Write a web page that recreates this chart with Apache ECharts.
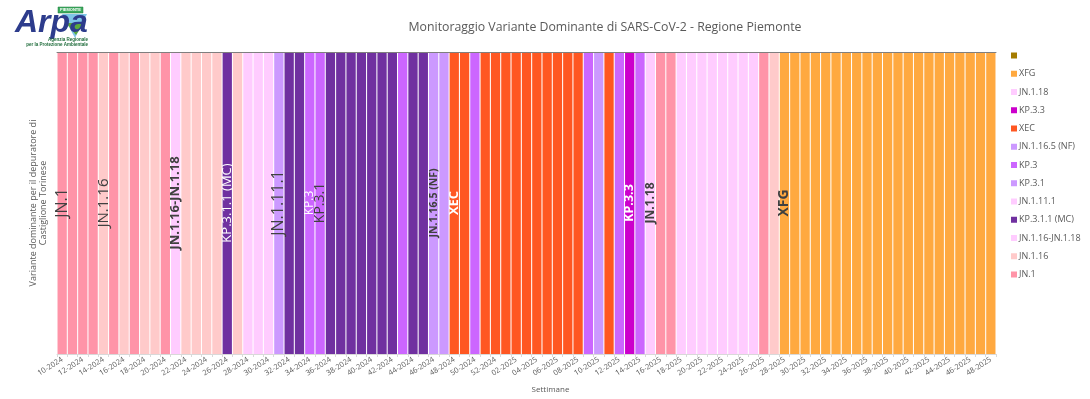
<!DOCTYPE html>
<html><head><meta charset="utf-8">
<script src="https://cdn.jsdelivr.net/npm/echarts@6/dist/echarts.min.js"></script>
<style>html,body{margin:0;padding:0;background:#fff}#c{width:1090px;height:399px}</style>
</head><body><div id="c"></div>
<script>
// ---- DATA ----
const weeks = [
 '10-2024','11-2024','12-2024','13-2024','14-2024','15-2024','16-2024','17-2024','18-2024','19-2024',
 '20-2024','21-2024','22-2024','23-2024','24-2024','25-2024','26-2024','27-2024','28-2024','29-2024',
 '30-2024','31-2024','32-2024','33-2024','34-2024','35-2024','36-2024','37-2024','38-2024','39-2024',
 '40-2024','41-2024','42-2024','43-2024','44-2024','45-2024','46-2024','47-2024','48-2024','49-2024',
 '50-2024','51-2024','52-2024',
 '01-2025','02-2025','03-2025','04-2025','05-2025','06-2025','07-2025','08-2025','09-2025','10-2025',
 '11-2025','12-2025','13-2025','14-2025','15-2025','16-2025','17-2025','18-2025','19-2025','20-2025',
 '21-2025','22-2025','23-2025','24-2025','25-2025','26-2025','27-2025','28-2025','29-2025','30-2025',
 '31-2025','32-2025','33-2025','34-2025','35-2025','36-2025','37-2025','38-2025','39-2025','40-2025',
 '41-2025','42-2025','43-2025','44-2025','45-2025','46-2025','47-2025','48-2025'
];
const dominant = [
 'JN.1','JN.1','JN.1','JN.1','JN.1.16','JN.1','JN.1.16','JN.1','JN.1.16','JN.1.16',
 'JN.1','JN.1.16-JN.1.18','JN.1.16','JN.1.16','JN.1.16','JN.1.16','KP.3.1.1 (MC)','JN.1.16','JN.1.11.1','JN.1.11.1',
 'JN.1.11.1','KP.3.1','KP.3.1.1 (MC)','KP.3.1.1 (MC)','KP.3','KP.3','KP.3.1.1 (MC)','KP.3.1.1 (MC)','KP.3.1.1 (MC)','KP.3.1.1 (MC)',
 'KP.3.1.1 (MC)','KP.3.1.1 (MC)','KP.3.1.1 (MC)','KP.3','KP.3.1.1 (MC)','KP.3.1.1 (MC)','JN.1.16.5 (NF)','JN.1.16.5 (NF)','XEC','XEC',
 'KP.3','XEC','XEC',
 'XEC','XEC','XEC','XEC','XEC','XEC','XEC','XEC','KP.3','JN.1.16.5 (NF)',
 'XEC','KP.3','KP.3.3','KP.3','JN.1.18','JN.1','JN.1','JN.1.18','JN.1.18','JN.1.18',
 'JN.1.18','JN.1.18','JN.1.18','JN.1.18','JN.1.18','JN.1','JN.1.16','XFG','XFG','XFG',
 'XFG','XFG','XFG','XFG','XFG','XFG','XFG','XFG','XFG','XFG',
 'XFG','XFG','XFG','XFG','XFG','XFG','XFG','XFG'
];
// legend order (top to bottom); first entry has no name in the original
const legendOrder = [' ','XFG','JN.1.18','KP.3.3','XEC','JN.1.16.5 (NF)','KP.3','KP.3.1','JN.1.11.1','KP.3.1.1 (MC)','JN.1.16-JN.1.18','JN.1.16','JN.1'];
// in-bar labels
const labelWeeks = ['10-2024','14-2024','21-2024','26-2024','31-2024','34-2024','35-2024','46-2024','48-2024','13-2025','15-2025','28-2025'];
const labelTexts = ['JN.1','JN.1.16','JN.1.16-JN.1.18','KP.3.1.1 (MC)','JN.1.11.1','KP.3','KP.3.1','JN.1.16.5 (NF)','XEC','KP.3.3','JN.1.18','XFG'];

// ---- STYLE ----
const colors = {
 ' ':'#A57C00','XFG':'#FFA940','JN.1.18':'#FFCCFF','KP.3.3':'#CC00CC','XEC':'#FF5722',
 'JN.1.16.5 (NF)':'#CC99FF','KP.3':'#CC66FF','KP.3.1':'#CC99FF','JN.1.11.1':'#FFCCFF',
 'KP.3.1.1 (MC)':'#7030A0','JN.1.16-JN.1.18':'#FFCCFF','JN.1.16':'#FFCACA','JN.1':'#FF94A8'
};
const labelStyle = {
 'JN.1':{size:16,bold:false,color:'#404040'},
 'JN.1.16':{size:15,bold:false,color:'#404040'},
 'JN.1.16-JN.1.18':{size:13,bold:true,color:'#404040'},
 'KP.3.1.1 (MC)':{size:13,bold:false,color:'#FFFFFF'},
 'JN.1.11.1':{size:16,bold:false,color:'#404040'},
 'KP.3':{size:12,bold:false,color:'#FFFFFF'},
 'KP.3.1':{size:14,bold:false,color:'#404040'},
 'JN.1.16.5 (NF)':{size:10.5,bold:true,color:'#404040'},
 'XEC':{size:13,bold:true,color:'#FFFFFF'},
 'KP.3.3':{size:12.5,bold:true,color:'#FFFFFF'},
 'JN.1.18':{size:12,bold:true,color:'#404040'},
 'XFG':{size:14,bold:true,color:'#404040'}
};
const FONT = 'Open Sans';

const chart = echarts.init(document.getElementById('c'), null, {renderer:'canvas'});

const variantSeries = legendOrder.slice().reverse().map(v => ({
  name: v, type: 'bar', stack: 'w', silent: true,
  itemStyle: {color: colors[v]},
  data: dominant.map(d => d === v ? 1 : '-')
}));

const labelSeries = {
  name: '__labels', type: 'bar', silent: true,
  barGap: '-100%', barCategoryGap: '10%',
  itemStyle: {color: 'rgba(0,0,0,0)'},
  data: weeks.map(w => {
    const i = labelWeeks.indexOf(w);
    if (i < 0) return '-';
    const t = labelTexts[i], s = labelStyle[t];
    return {value: 1, label: {show: true, position: 'inside', rotate: 90, formatter: t,
      fontSize: s.size, fontWeight: s.bold ? 'bold' : 'normal', color: s.color, fontFamily: FONT}};
  })
};

chart.setOption({
  animation: false,
  textStyle: {fontFamily: FONT},
  title: {
    text: 'Monitoraggio Variante Dominante di SARS-CoV-2 - Regione Piemonte',
    left: 600, textAlign: 'center', top: 16,
    textStyle: {fontSize: 12.3, fontWeight: 'normal', color: '#595959', fontFamily: FONT}
  },
  legend: {
    data: legendOrder, orient: 'vertical', left: 1011, top: 50,
    itemWidth: 6, itemHeight: 6, itemGap: 7.25, icon: 'rect', padding: 0,
    selectedMode: false,
    textStyle: {fontSize: 9, color: '#595959', lineHeight: 11, fontFamily: FONT, padding: [0,0,0,-3]}
  },
  grid: {left: 57, right: 94, top: 52, bottom: 42},
  xAxis: [{
    type: 'category', data: weeks,
    axisLine: {lineStyle: {color: '#D9D9D9'}},
    axisTick: {show: true, interval: 0, length: 3, lineStyle: {color: '#D9D9D9'}},
    axisLabel: {interval: 1, rotate: 32, fontSize: 7.5, color: '#595959', margin: 5, fontFamily: FONT},
    name: 'Settimane', nameLocation: 'middle', nameGap: 32,
    nameTextStyle: {fontSize: 8, color: '#595959', padding: [0,0,0,48]}
  },{
    type: 'category', data: weeks, position: 'top', z: 5,
    axisLine: {lineStyle: {color: '#7F7F7F'}},
    axisTick: {show: false}, axisLabel: {show: false}
  }],
  yAxis: {
    type: 'value', min: 0, max: 1, interval: 1,
    axisLine: {show: false}, axisTick: {show: false}, axisLabel: {show: false},
    splitLine: {show: false},
    name: 'Variante dominante per il depuratore di\nCastiglione Torinese',
    nameLocation: 'middle', nameRotate: 90, nameGap: 9,
    nameTextStyle: {fontSize: 9, color: '#595959', lineHeight: 10, align: 'center'}
  },
  graphic: [
    {type: 'polygon', shape: {points: [[62,14],[87,14],[75,38]]}, style: {fill: '#7FC6E8'}},
    {type: 'polygon', shape: {points: [[66,23],[84,23],[76,35]]}, style: {fill: '#5BAA3C'}},
    {type: 'text', left: 15, top: 7, style: {text: 'Arpa', font: 'italic bold 32px "Liberation Sans"', fill: '#2D3C8C'}},
    {type: 'rect', shape: {x: 58, y: 7, width: 25, height: 6}, style: {fill: '#3DAA5E', stroke: '#1E7B3C', lineWidth: 0.5}},
    {type: 'text', x: 70.5, y: 10, style: {text: 'PIEMONTE', font: 'bold 4px "Liberation Sans"', fill: '#FFFFFF', textAlign: 'center', textVerticalAlign: 'middle'}},
    {type: 'text', x: 88, y: 39.5, style: {text: 'Agenzia Regionale', font: 'bold 4.5px "Liberation Sans"', fill: '#1E6B3A', textAlign: 'right', textVerticalAlign: 'middle'}},
    {type: 'text', x: 88, y: 44.5, style: {text: 'per la Protezione Ambientale', font: 'bold 4.5px "Liberation Sans"', fill: '#1E6B3A', textAlign: 'right', textVerticalAlign: 'middle'}}
  ],
  series: variantSeries.concat([labelSeries])
});
</script></body></html>
